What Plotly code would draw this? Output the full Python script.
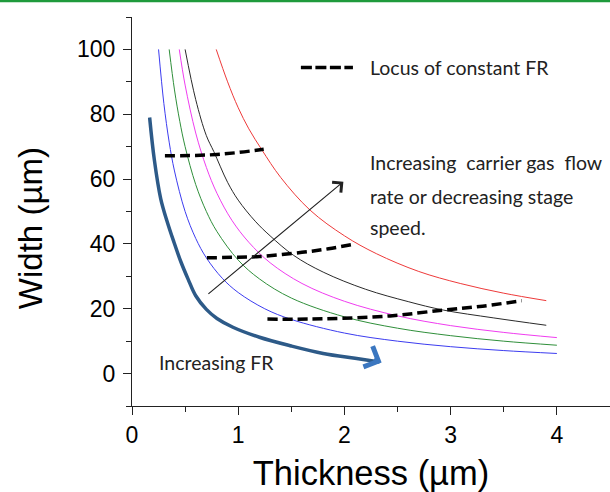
import plotly.graph_objects as go

# ---- data ----
blue_t = [0.25, 0.3, 0.35, 0.4, 0.5, 0.6, 0.7, 0.85, 1.0, 1.25, 1.5, 2.0, 2.5, 3.0, 3.5, 4.0]
blue_w = [100, 83.3, 71.4, 62.5, 50, 41.7, 35.7, 29.4, 25, 20, 16.7, 12.5, 10, 8.3, 7.1, 6.2]

green_t = [0.35, 0.4, 0.45, 0.5, 0.6, 0.7, 0.8, 1.0, 1.2, 1.5, 2.0, 2.5, 3.0, 3.5, 4.0]
green_w = [100, 87.5, 77.8, 70, 58.3, 50, 43.8, 35, 29.2, 23.3, 17.5, 14, 11.7, 10, 8.75]

magenta_t = [0.445, 0.5, 0.6, 0.7, 0.8, 0.94, 1.1, 1.3, 1.6, 2.0, 2.5, 3.0, 3.5, 4.0]
magenta_w = [100, 89, 74.2, 63.6, 55.6, 47.3, 40.5, 34.2, 27.8, 22.3, 17.8, 14.8, 12.7, 11.1]

black_t = [0.5, 0.6, 0.7, 0.77, 0.9, 1.0, 1.16, 1.3, 1.52, 1.8, 2.2, 2.6, 2.93, 3.4, 3.9]
black_w = [100, 84.5, 73.4, 68.5, 59, 53.5, 47, 42.5, 36.5, 31.3, 26, 22.2, 19.6, 17.2, 14.9]

red_t = [0.793, 0.9, 1.0, 1.1, 1.223, 1.4, 1.677, 2.0, 2.3, 2.7, 3.09, 3.5, 3.9]
red_w = [100, 90, 82, 75.5, 69, 60.5, 50.4, 42.5, 37, 31.5, 27.8, 24.8, 22.5]

fr_t = [0.166, 0.21, 0.27, 0.33, 0.39, 0.46, 0.53, 0.6, 0.7, 0.8, 0.95, 1.2, 1.5, 1.8, 2.1, 2.33]
fr_w = [79, 66, 54, 47, 41, 34.5, 29, 24, 19.8, 17, 14.3, 11.2, 8.5, 6.2, 4.7, 3.6]

locus1_t = [0.31, 0.6, 0.8, 1.0, 1.24]
locus1_w = [67.2, 67.3, 67.6, 68.2, 69.2]
locus2_t = [0.705, 1.0, 1.2, 1.6, 1.85, 2.1]
locus2_w = [35.7, 35.9, 36.1, 37.4, 38.5, 40]
locus3_t = [1.275, 1.8, 2.43, 2.93, 3.3, 3.67]
locus3_w = [16.8, 16.9, 17.8, 19.6, 20.8, 22.5]

x_ticks = [0, 1, 2, 3, 4]
y_ticks = [0, 20, 40, 60, 80, 100]

legend_label = "Locus of constant FR"

curve_colors = {"blue": "#3c3cf0", "green": "#2f8f3a", "magenta": "#f03cf0",
                "black": "#2a2a2a", "red": "#ee3a3a"}

fig = go.Figure()

for (t, w, c) in [(blue_t, blue_w, "blue"), (green_t, green_w, "green"),
                  (magenta_t, magenta_w, "magenta"), (black_t, black_w, "black"),
                  (red_t, red_w, "red")]:
    fig.add_trace(go.Scatter(x=t, y=w, mode="lines", showlegend=False,
                             line=dict(color=curve_colors[c], width=1, shape="spline")))

fig.add_trace(go.Scatter(x=fr_t, y=fr_w, mode="lines", showlegend=False,
                         line=dict(color="#2d5a88", width=3.5, shape="spline")))

for i, (t, w) in enumerate([(locus1_t, locus1_w), (locus2_t, locus2_w), (locus3_t, locus3_w)]):
    fig.add_trace(go.Scatter(x=t, y=w, mode="lines", name=legend_label,
                             showlegend=False,
                             line=dict(color="black", width=3.5, dash="10px,5px", shape="spline")))

txt_font = dict(family="Lato, Carlito, sans-serif", size=19.5, color="#222222")

# legend key (dashed sample) and label
fig.add_shape(type="line", xref="x", yref="y", x0=1.59, x1=2.08, y0=94.4, y1=94.4,
              line=dict(color="black", width=3.5, dash="11px,3.5px"))
fig.add_annotation(x=2.223, y=94.4, xref="x", yref="y", text=legend_label, showarrow=False,
                   xanchor="left", yanchor="middle", font=txt_font)

# arrow: increasing carrier gas flow
fig.add_annotation(x=1.99, y=59.2, ax=0.705, ay=24.2, xref="x", yref="y", axref="x", ayref="y",
                   text="", showarrow=True, arrowhead=4, arrowsize=2.2, arrowwidth=1.2,
                   arrowcolor="#222222")
# arrow head for increasing FR
fig.add_annotation(x=2.35, y=3.4, ax=-9, ay=-4, xref="x", yref="y",
                   text="", showarrow=True, arrowhead=4, arrowsize=1.25, arrowwidth=3.5,
                   arrowcolor="#3b77c0")

lines = ["Increasing  carrier gas  flow", "rate or decreasing stage", "speed."]
line_w = [65.05, 54.7, 45.2]
for s, wv in zip(lines, line_w):
    fig.add_annotation(x=2.223, y=wv, xref="x", yref="y", text=s, showarrow=False,
                       xanchor="left", yanchor="middle", font=txt_font)

fig.add_annotation(x=0.235, y=3.35, xref="x", yref="y", text="Increasing FR", showarrow=False,
                   xanchor="left", yanchor="middle", font=txt_font)

title_font = dict(family="Liberation Sans, Arial, sans-serif", size=34.5, color="black")

# y title
fig.add_annotation(x=-0.2125, y=45, xref="paper", yref="y", text="Width (µm)", showarrow=False,
                   textangle=-90, xanchor="center", yanchor="middle",
                   font=dict(family="Liberation Sans, Arial, sans-serif", size=33, color="black"))

# green border line at top
fig.add_shape(type="line", xref="paper", yref="paper", x0=-0.3, x1=1.05, y0=1.041, y1=1.041,
              line=dict(color="#1f9a3c", width=2.5))

axis_common = dict(showline=True, linecolor="#222222", linewidth=1.3, ticks="outside",
                   ticklen=8, tickwidth=1.3, tickcolor="#222222", showgrid=False, zeroline=False,
                   tickfont=dict(family="Liberation Sans, Arial, sans-serif", size=23, color="black"))

fig.update_xaxes(range=[0, 4.5], tickvals=x_ticks, **axis_common,
                 minor=dict(dtick=0.5, ticks="outside", ticklen=5, tickwidth=1.3, tickcolor="#222222"),
                 title=dict(text="Thickness (µm)", standoff=18, font=title_font))
fig.update_yaxes(range=[-10, 110], tickvals=y_ticks, **axis_common, ticklabelstandoff=3,
                 minor=dict(dtick=10, ticks="outside", ticklen=5, tickwidth=1.3, tickcolor="#222222"))

fig.update_layout(width=610, height=492, margin=dict(l=132, r=0, t=17, b=86),
                  plot_bgcolor="white", paper_bgcolor="white", showlegend=False)

fig.write_html("out.html")
